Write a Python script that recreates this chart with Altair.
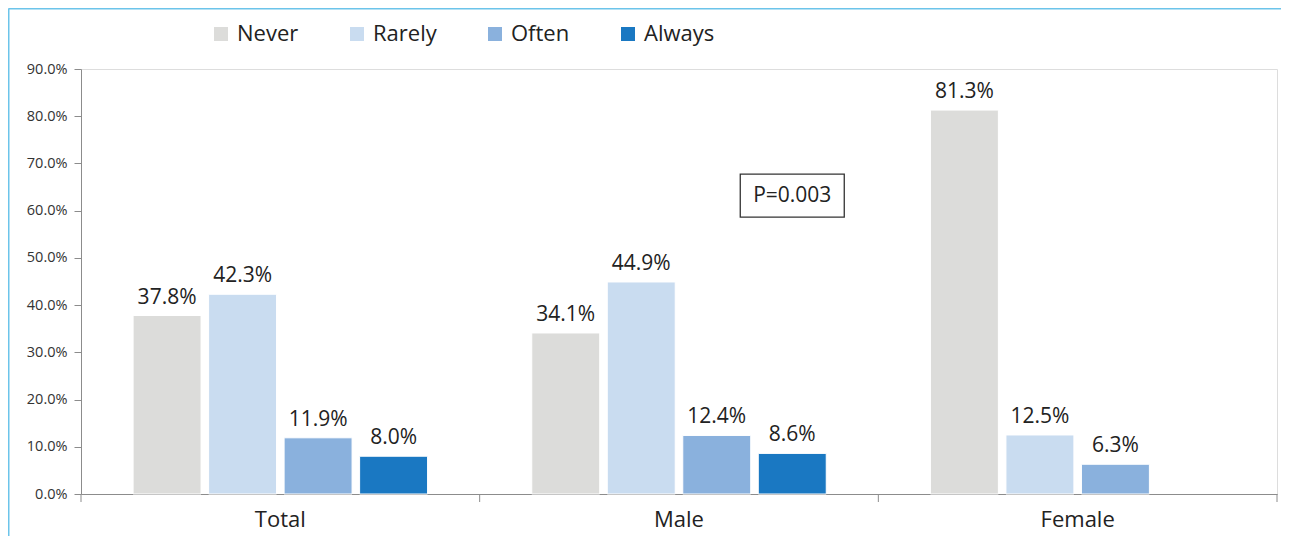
import altair as alt
import pandas as pd

groups = ["Total", "Male", "Female"]
levels = ["Never", "Rarely", "Often", "Always"]
colors = ["#DCDCDA", "#C9DCF0", "#8AB1DD", "#1A78C2"]

total_vals = [0.378, 0.423, 0.119, 0.080]
male_vals = [0.341, 0.449, 0.124, 0.086]
female_vals = [0.813, 0.125, 0.063]

p_text = "P=0.003"
p_y = 0.632

rows = []
for g, vals in zip(groups, [total_vals, male_vals, female_vals]):
    for lvl, v in zip(levels, vals):
        rows.append({"group": g, "level": lvl, "value": v})
df = pd.DataFrame(rows)

FONT = "Open Sans"
W, H = 1196, 425

x_enc = alt.X("group:N", sort=groups,
              scale=alt.Scale(domain=groups, paddingInner=0, paddingOuter=0),
              axis=alt.Axis(title=None, ticks=False, labelAngle=0, labelFontSize=22,
                            labelColor="#222222", labelFont=FONT, labelPadding=15,
                            domainColor="#8c8c8c", domainWidth=1))
xo_enc = alt.XOffset("level:N", sort=levels,
                     scale=alt.Scale(domain=levels, paddingInner=0.1, paddingOuter=0.69))
y_enc = alt.Y("value:Q",
              scale=alt.Scale(domain=[0, 0.9], nice=False, zero=True),
              axis=alt.Axis(title=None, format=".1%", values=[i / 10 for i in range(10)],
                            grid=False, tickSize=7, tickColor="#8c8c8c", domainColor="#8c8c8c",
                            labelFontSize=14.5, labelColor="#333333", labelFont=FONT,
                            labelPadding=7))

base = alt.Chart(df)

bars = base.mark_bar(stroke="white", strokeWidth=1).encode(
    x=x_enc, xOffset=xo_enc, y=y_enc,
    color=alt.Color("level:N", sort=levels,
                    scale=alt.Scale(domain=levels, range=colors),
                    legend=alt.Legend(title=None, orient="none", direction="horizontal",
                                      legendX=129, legendY=-46, padding=0,
                                      symbolType="square",
                                      symbolSize=196, symbolStrokeWidth=0, labelFontSize=22,
                                      labelFont=FONT, labelColor="#222222", labelOffset=5,
                                      columnPadding=47)),
)

labels = base.mark_text(fontSize=21, font=FONT, color="#222222", dy=-12,
                        baseline="alphabetic").encode(
    x=alt.X("group:N", sort=groups), xOffset=alt.XOffset("level:N", sort=levels),
    y="value:Q", text=alt.Text("value:Q", format=".1%"),
)

sep_df = pd.DataFrame({"group": groups})
sep = alt.Chart(sep_df).mark_rule(color="#8c8c8c", strokeWidth=1).encode(
    x=alt.X("group:N", sort=groups, bandPosition=0),
    y=alt.value(H), y2=alt.value(H + 8),
)
sep_end = alt.Chart(pd.DataFrame({"group": [groups[-1]]})).mark_rule(
    color="#8c8c8c", strokeWidth=1).encode(
    x=alt.X("group:N", sort=groups, bandPosition=1),
    y=alt.value(H), y2=alt.value(H + 8),
)

ann_df = pd.DataFrame({"group": ["Male"], "level": ["Always"], "value": [p_y], "text": [p_text]})
ann_box = alt.Chart(ann_df).mark_point(
    shape="M-1,-0.413L1,-0.413L1,0.413L-1,0.413Z", size=104 * 104, filled=False,
    stroke="#333333", strokeWidth=1.3, opacity=1).encode(
    x=alt.X("group:N", sort=groups), xOffset=alt.XOffset("level:N", sort=levels),
    y="value:Q",
)
ann_text = alt.Chart(ann_df).mark_text(fontSize=21, font=FONT, color="#222222",
                                       baseline="middle").encode(
    x=alt.X("group:N", sort=groups), xOffset=alt.XOffset("level:N", sort=levels),
    y="value:Q", text="text:N",
)

frame = pd.DataFrame({"a": [0]})
border_top = alt.Chart(frame).mark_rule(color="#6cc4ea", strokeWidth=2).encode(
    x=alt.value(-72.5), x2=alt.value(W + 4), y=alt.value(-60.5),
)
border_left = alt.Chart(frame).mark_rule(color="#6cc4ea", strokeWidth=2).encode(
    x=alt.value(-72.5), y=alt.value(-60.5), y2=alt.value(H + 42),
)

chart = alt.layer(bars, labels, sep, sep_end, ann_box, ann_text,
                  border_top, border_left).properties(
    width=W, height=H,
    autosize=alt.AutoSizeParams(type="none"),
    padding={"left": 73, "top": 61, "right": 4, "bottom": 42},
).configure_view(stroke=None).configure(background="white")

chart.save("out.html", embed_options={"renderer": "svg", "actions": False})
